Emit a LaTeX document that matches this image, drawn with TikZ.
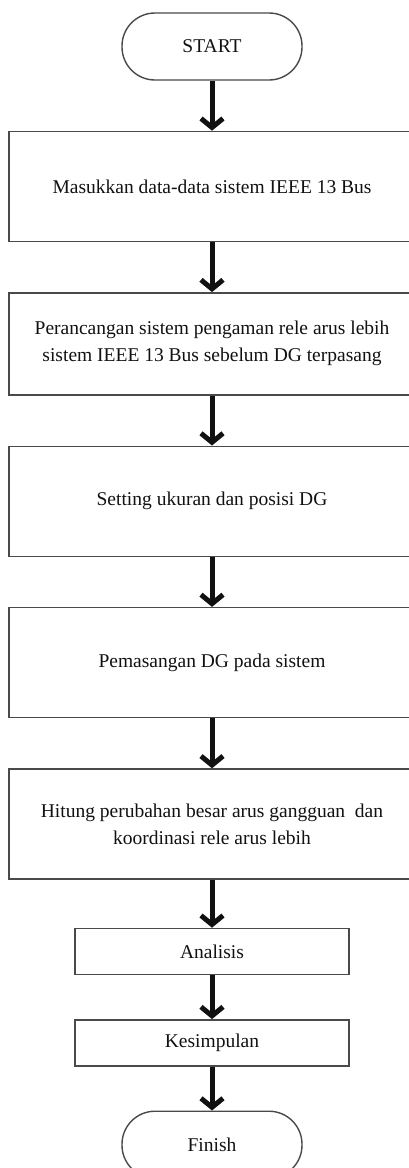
\documentclass[tikz,border=0pt]{standalone}
\usepackage{fontspec}
\setmainfont{Liberation Serif}
\usepackage{tikz}
\usetikzlibrary{arrows.meta,positioning}
\definecolor{FlowInk}{HTML}{111111}
\definecolor{FlowEdge}{HTML}{4A4A4A}

\begin{document}
\begin{tikzpicture}[
    x=1pt, y=1pt,
    node distance=50pt,
    flow/.style={-{Straight Barb[length=9pt, width=22pt]}, line width=5pt, draw=FlowInk},
    stepbox/.style={draw=FlowEdge, line width=1.4pt, minimum width=406pt,
      minimum height=110pt, align=center, inner sep=0pt, text=FlowInk,
      font=\fontsize{19.5}{27}\selectfont},
    smallbox/.style={stepbox, minimum width=274pt, minimum height=46pt},
    terminal/.style={stepbox, rounded corners=33pt, minimum width=180pt, minimum height=67pt}
  ]
    \clip (0,0) rectangle (409,-1168);
    \node[terminal] (start) at (212,-46.5) {START};
    \node[stepbox, below=of start] (input) {Masukkan data-data sistem IEEE 13 Bus};
    \node[stepbox, minimum height=102pt, below=of input] (design)
      {Perancangan sistem pengaman rele arus lebih\\sistem IEEE 13 Bus sebelum DG terpasang};
    \node[stepbox, below=of design] (setting) {Setting ukuran dan posisi DG};
    \node[stepbox, below=of setting] (install) {Pemasangan DG pada sistem};
    \node[stepbox, below=of install] (compute)
      {Hitung perubahan besar arus gangguan \ dan\\koordinasi rele arus lebih};
    \node[smallbox, below=48pt of compute] (analysis) {Analisis};
    \node[smallbox, below=44pt of analysis] (conclusion) {Kesimpulan};
    \node[terminal, below=44pt of conclusion] (finish) {Finish};

    \draw[flow] (start) -- (input);
    \draw[flow] (input) -- (design);
    \draw[flow] (design) -- (setting);
    \draw[flow] (setting) -- (install);
    \draw[flow] (install) -- (compute);
    \draw[flow] (compute) -- (analysis);
    \draw[flow] (analysis) -- (conclusion);
    \draw[flow] (conclusion) -- (finish);
  \end{tikzpicture}
\end{document}
